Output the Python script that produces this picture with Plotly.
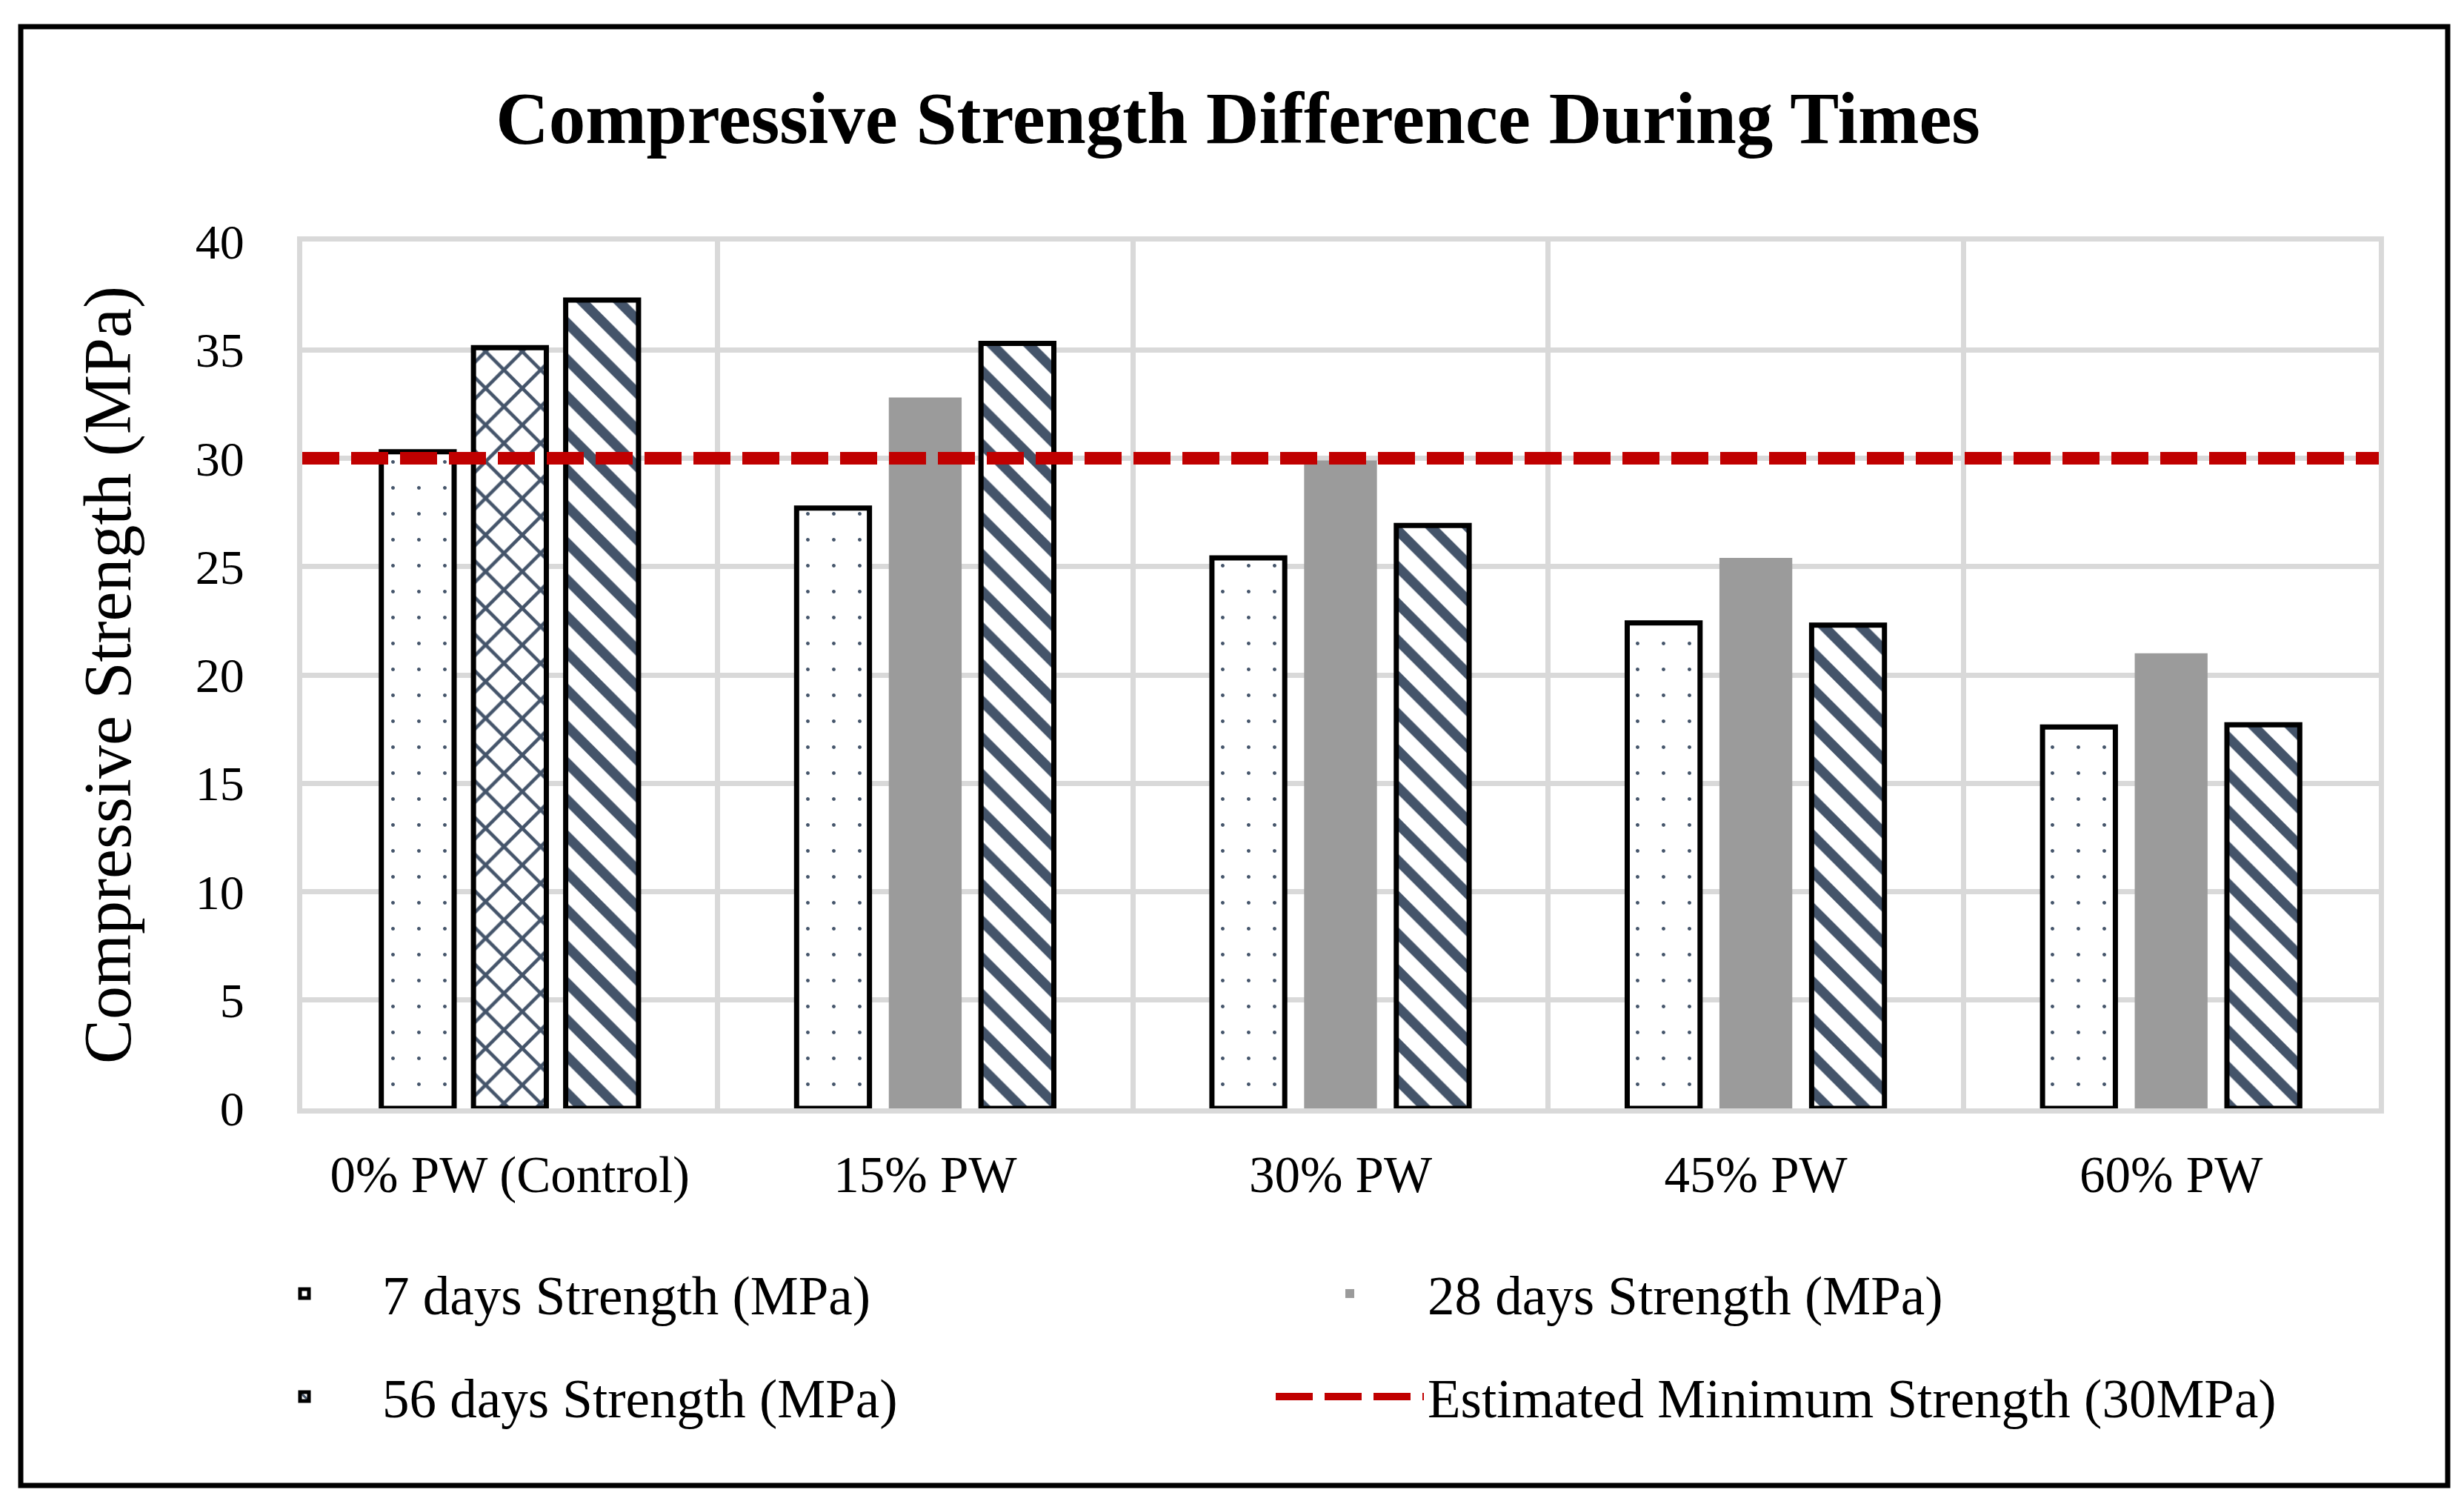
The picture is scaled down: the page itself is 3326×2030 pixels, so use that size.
import plotly.graph_objects as go

# ---------------- data ----------------
categories = ["0% PW (Control)", "15% PW", "30% PW", "45% PW", "60% PW"]
strength_7d = [30.3, 27.7, 25.4, 22.4, 17.6]
strength_28d = [35.1, 32.8, 29.9, 25.4, 21.0]
strength_56d = [37.3, 35.3, 26.9, 22.3, 17.7]
min_strength = 30
series_names = ["7 days Strength (MPa)", "28 days Strength (MPa)",
                "56 days Strength (MPa)", "Estimated Minimum Strength (30MPa)"]
y_ticks = [0, 5, 10, 15, 20, 25, 30, 35, 40]
title_text = "Compressive Strength Difference During Times"
y_title = "Compressive Strength (MPa)"

# ---------------- style ----------------
W, H = 3326, 2030
ML, MR, MT, MB = 400, 123, 318, 542
PW = W - ML - MR
PH = H - MT - MB
FONT = "Liberation Serif"
PAT = "#44546A"
GRAY = "#9B9B9B"
GRID = "#D9D9D9"
RED = "#C00000"
OUT_W = 7

def px_x(p):
    return (p - ML) / PW

def px_y(p):
    return (H - MB - p) / PH

fig = go.Figure()

fig.add_trace(go.Bar(
    x=categories, y=strength_7d, name=series_names[0], offsetgroup="g7",
    marker=dict(color="white", line=dict(color="black", width=OUT_W),
                pattern=dict(shape=".", size=35, solidity=0.016, fgcolor=PAT,
                             bgcolor="white", fillmode="replace")),
    legend="legend"))

# 28 days: first category drawn with a cross-hatch pattern, others solid gray
n = len(categories)
shapes_28 = ["x"] + [""] * (n - 1)
lw_28 = [OUT_W] + [0] * (n - 1)
fig.add_trace(go.Bar(
    x=categories, y=strength_28d, name=series_names[1], offsetgroup="g28",
    showlegend=False,
    marker=dict(color=GRAY, line=dict(color="black", width=lw_28),
                pattern=dict(shape=shapes_28, size=35, solidity=0.25,
                             fgcolor=PAT, bgcolor="white", fillmode="replace"))))
# legend entry for 28 days (gray swatch)
fig.add_trace(go.Bar(
    x=[None], y=[None], name=series_names[1], offsetgroup="g28",
    marker=dict(color=GRAY, line=dict(width=0)), legend="legend"))

fig.add_trace(go.Bar(
    x=categories, y=strength_56d, name=series_names[2], offsetgroup="g56",
    marker=dict(color="white", line=dict(color="black", width=OUT_W),
                pattern=dict(shape="\\", size=35, solidity=0.38, fgcolor=PAT,
                             bgcolor="white", fillmode="replace")),
    legend="legend2"))

shapes = [
    dict(type="line", xref="paper", yref="y", x0=0, x1=1,
         y0=min_strength, y1=min_strength,
         line=dict(color=RED, width=17, dash="50px,16px"),
         layer="above", showlegend=True, name=series_names[3], legend="legend2"),
    dict(type="rect", xref="paper", yref="paper",
         x0=px_x(20), x1=px_x(3296), y0=px_y(1997), y1=px_y(28),
         line=dict(color="black", width=7), fillcolor="rgba(0,0,0,0)", layer="above"),
]

axis_common = dict(showgrid=True, gridcolor=GRID, gridwidth=7, ticks="",
                   showline=True, mirror=True, linecolor=GRID, linewidth=7,
                   fixedrange=True)

fig.update_layout(
    width=W, height=H,
    margin=dict(l=ML, r=MR, t=MT, b=MB),
    paper_bgcolor="white", plot_bgcolor="white",
    font=dict(family=FONT, color="black"),
    barmode="group", bargap=0.334, bargroupgap=0.21,
    title=dict(text="<b>" + title_text + "</b>", x=0.5, xref="container", xanchor="center",
               y=1 - 150 / H, yref="container", yanchor="middle",
               font=dict(family=FONT, size=99, color="black")),
    xaxis=dict(type="category", tickson="boundaries", tickfont=dict(size=69),
               ticklabelstandoff=23, range=[-0.5, n - 0.5], **axis_common),
    yaxis=dict(range=[0, 40], tickvals=y_ticks, zeroline=False, tickfont=dict(size=66),
               ticklabelstandoff=58,
               title=dict(text=y_title, font=dict(size=90), standoff=60), **axis_common),
    shapes=shapes,
    legend=dict(orientation="h", x=px_x(298), xanchor="left", y=px_y(1684), yanchor="top",
                font=dict(size=73), itemwidth=200, entrywidth=1196, entrywidthmode="pixels",
                bgcolor="rgba(0,0,0,0)", traceorder="normal"),
    legend2=dict(orientation="h", x=px_x(298), xanchor="left", y=px_y(1823), yanchor="top",
                 font=dict(size=73), itemwidth=200, entrywidth=1196, entrywidthmode="pixels",
                 bgcolor="rgba(0,0,0,0)", traceorder="normal"),
)

fig.write_html("out.html")
